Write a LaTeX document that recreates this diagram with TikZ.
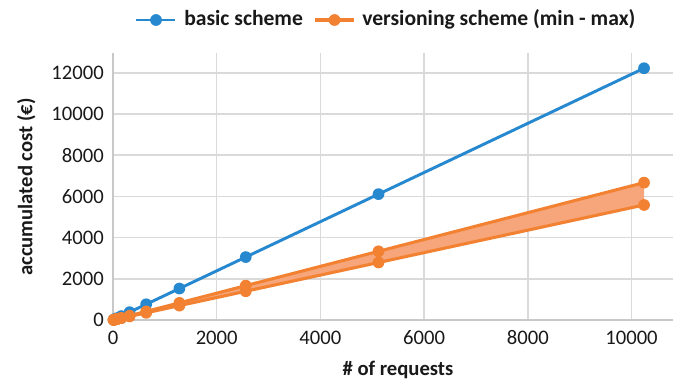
\documentclass[tikz,border=0pt]{standalone}
\usepackage{fontspec}
\setmainfont{Carlito}
\definecolor{cblue}{RGB}{38,136,207}
\definecolor{corange}{RGB}{242,130,50}
\definecolor{cfill}{RGB}{246,166,122}
\definecolor{cgrid}{RGB}{218,218,218}
\definecolor{caxis}{RGB}{200,200,200}
\definecolor{ctext}{RGB}{25,25,25}
\begin{document}
\begin{tikzpicture}[x=0.75pt,y=-0.75pt,
  ticklab/.style={font=\fontsize{15.5}{18}\selectfont, text=ctext, inner sep=0pt},
  axtitle/.style={font=\bfseries\fontsize{15.5}{18}\selectfont, text=ctext, inner sep=0pt},
  legtext/.style={font=\bfseries\fontsize{16.2}{19}\selectfont, text=ctext, inner sep=0pt},
  gridline/.style={draw=cgrid, line width=1.1pt},
  axisline/.style={draw=caxis, line width=1.1pt},
  bline/.style={draw=cblue, line width=2.2pt, line join=round},
  oline/.style={draw=corange, line width=2.3pt, line join=round},
  bmark/.style={fill=cblue},
  omark/.style={fill=corange}]
\useasboundingbox (0,0) rectangle (673,380);
% grid
\foreach \k in {1,...,6} \draw[gridline] (113,{320-41.2*\k}) -- (673,{320-41.2*\k});
\foreach \k in {1,...,5} \draw[gridline] ({113+103.7*\k},53) -- ({113+103.7*\k},320);
\draw[axisline] (113,53) -- (113,320) -- (673,320);
% tick labels
\foreach \k in {0,...,6} {
  \pgfmathtruncatemacro\lab{2000*\k}
  \node[ticklab, anchor=east] (yl\k) at (104,{320-41.2*\k}) {\lab};
}
\foreach \k in {0,...,5} {
  \pgfmathtruncatemacro\lab{2000*\k}
  \node[ticklab] (xl\k) at ({113+103.7*\k},338) {\lab};
}
% axis titles
\node[axtitle, rotate=90, anchor=base] (ytitle) at (32.3,187) {accumulated cost (€)};
\node[axtitle, anchor=base] (xtitle) at (398,375) {\# of requests};
% legend
\draw[bline] (136,20) -- (175,20);
\fill[bmark] (156,20) circle[radius=4.4pt];
\node[legtext, anchor=base west] (lega) at (184,25) {basic scheme};
\draw[oline] (315,20) -- (354,20);
\fill[omark] (334.5,20) circle[radius=4.4pt];
\node[legtext, anchor=base west] (legb) at (362,25) {versioning scheme (min - max)};
% data
\begin{scope}[xshift=84.75pt, yshift=-240pt, x=0.0388875pt, y=0.01545pt]
  \draw[bline] plot coordinates {(10,11.9) (20,23.9) (40,47.7) (80,95.4) (160,190.9) (320,381.8) (640,763.5) (1280,1527) (2560,3054) (5120,6108) (10240,12216)};
  \foreach \n/\v in {10/11.9,20/23.9,40/47.7,80/95.4,160/190.9,320/381.8,640/763.5,1280/1527,2560/3054,5120/6108,10240/12216}
    \fill[bmark] (\n,\v) circle[radius=4.4pt];
  \fill[cfill] (10,6.5) -- (20,13) -- (40,26) -- (80,52) -- (160,104) -- (320,208) -- (640,417) -- (1280,833) -- (2560,1667) -- (5120,3333) -- (10240,6666)
    -- (10240,5581) -- (5120,2790) -- (2560,1395) -- (1280,698) -- (640,349) -- (320,174) -- (160,87.2) -- (80,43.6) -- (40,21.8) -- (20,10.9) -- (10,5.5) -- cycle;
  \draw[oline] plot coordinates {(10,6.5) (20,13) (40,26) (80,52) (160,104) (320,208) (640,417) (1280,833) (2560,1667) (5120,3333) (10240,6666)};
  \draw[oline] plot coordinates {(10,5.5) (20,10.9) (40,21.8) (80,43.6) (160,87.2) (320,174) (640,349) (1280,698) (2560,1395) (5120,2790) (10240,5581)};
  \foreach \n/\v in {10/6.5,20/13,40/26,80/52,160/104,320/208,640/417,1280/833,2560/1667,5120/3333,10240/6666,
                     10/5.5,20/10.9,40/21.8,80/43.6,160/87.2,320/174,640/349,1280/698,2560/1395,5120/2790,10240/5581}
    \fill[omark] (\n,\v) circle[radius=4.4pt];
\end{scope}
\end{tikzpicture}
\end{document}
